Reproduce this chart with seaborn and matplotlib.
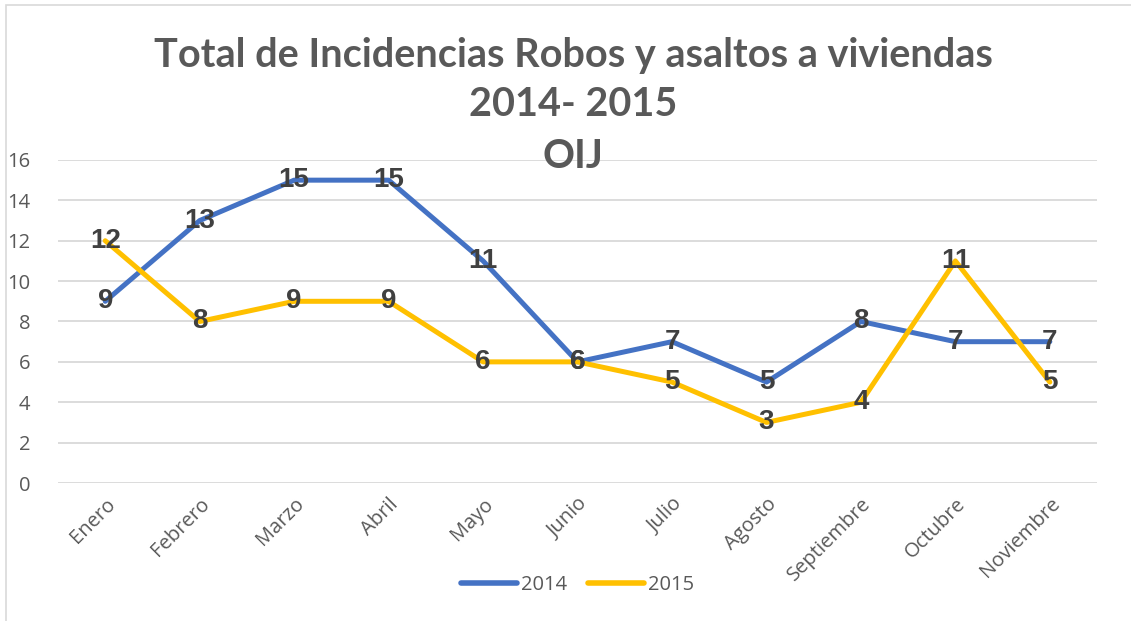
import pandas as pd
import seaborn as sns
import matplotlib.pyplot as plt
from matplotlib.patches import Rectangle

meses = ['Enero', 'Febrero', 'Marzo', 'Abril', 'Mayo', 'Junio', 'Julio',
         'Agosto', 'Septiembre', 'Octubre', 'Noviembre']
v2014 = [9, 13, 15, 15, 11, 6, 7, 5, 8, 7, 7]
v2015 = [12, 8, 9, 9, 6, 6, 5, 3, 4, 11, 5]

df = pd.DataFrame({'mes': meses * 2,
                   'valor': v2014 + v2015,
                   'anio': ['2014'] * len(meses) + ['2015'] * len(meses)})

sns.set_style('white')
plt.rcParams['font.family'] = ['Open Sans', 'DejaVu Sans']

fig = plt.figure(figsize=(11.31, 6.21), dpi=100)
ax = fig.add_axes([0.0513, 0.2222, 0.9187, 0.5202])

colores = {'2014': '#4472C4', '2015': '#FFC000'}
sns.lineplot(data=df, x='mes', y='valor', hue='anio', palette=colores,
             linewidth=3.6, sort=False, ax=ax)

# etiquetas de datos
for serie in [v2014, v2015]:
    for i, v in enumerate(serie):
        ax.text(i, v, str(v), ha='center', va='center', fontsize=20,
                fontweight='bold', color='#404040', family='Liberation Sans')

ax.set_xlim(-0.5, len(meses) - 0.5)
ax.set_ylim(0, 16)
ax.set_yticks(range(0, 17, 2))
ax.yaxis.grid(True, color='#D9D9D9', linewidth=1.3)
ax.set_axisbelow(True)
for s in ax.spines.values():
    s.set_visible(False)
ax.set_xlabel('')
ax.set_ylabel('')
ax.tick_params(axis='y', colors='#595959', labelsize=14.5, length=0, pad=20)
ax.tick_params(axis='x', colors='#595959', labelsize=14.5, length=0, pad=8)
plt.setp(ax.get_xticklabels(), rotation=45, ha='right', rotation_mode='anchor')
for lab in ax.get_yticklabels():
    lab.set_horizontalalignment('right')

leg = ax.legend(loc='center', bbox_to_anchor=(0.5 * 0.9187 + 0.0513, 1 - 585 / 621),
                bbox_transform=fig.transFigure, ncol=2, frameon=False,
                fontsize=14.5, handlelength=2.8, columnspacing=1.0, handletextpad=0.2)
for t in leg.get_texts():
    t.set_color('#595959')
for h in leg.get_lines():
    h.set_linewidth(4)
    h.set_solid_capstyle('round')

fig.text(0.507, 1 - 55 / 621, 'Total de Incidencias Robos y asaltos a viviendas',
         ha='center', va='center', fontsize=28.5, fontweight='bold',
         color='#595959', family='Lato')
fig.text(0.507, 1 - 105 / 621, '2014- 2015', ha='center', va='center',
         fontsize=28.5, fontweight='bold', color='#595959', family='Lato')
fig.text(0.507, 1 - 157 / 621, 'OIJ', ha='center', va='center',
         fontsize=28.5, fontweight='bold', color='#595959', family='Lato')

fig.patches.append(Rectangle((6 / 1131, -0.1), 1.2, 1 - 5 / 621 + 0.1,
                             transform=fig.transFigure, fill=False,
                             edgecolor='#D9D9D9', linewidth=1.2))

fig.savefig('out.png', dpi=100)
